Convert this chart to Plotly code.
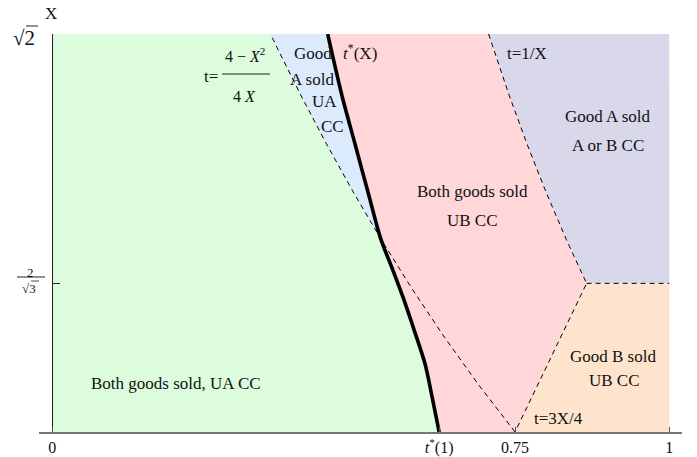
import plotly.graph_objects as go

# ---------------- data ----------------
# boundary t = (4 - X^2) / (4 X)
X_DASH = [1.0, 1.05, 1.10, 1.15, 1.2012, 1.25, 1.30, 1.35, 1.40, 1.41421]
T_DASH = [0.7500, 0.6899, 0.6341, 0.5821, 0.5322, 0.4875, 0.4442, 0.4032, 0.3643, 0.3536]
# thick curve t*(X)
X_STAR = [1.0, 1.035, 1.07, 1.105, 1.14, 1.17, 1.2012, 1.25, 1.30, 1.35, 1.41421]
T_STAR = [0.627, 0.616, 0.6045, 0.587, 0.5685, 0.551, 0.5322, 0.5115, 0.4905, 0.4695, 0.4463]
# boundary t = 1/X (upper part)
X_INV = [1.1547, 1.20, 1.25, 1.30, 1.35, 1.41421]
T_INV = [0.8660, 0.8333, 0.8000, 0.7692, 0.7407, 0.7071]
# boundary t = 3X/4 (lower part)
X_34 = [1.0, 1.1547]
T_34 = [0.75, 0.8660]
X_CROSS = 1.2012          # where t*(X) meets (4-X^2)/(4X)
X_KINK = 1.1547           # 2/sqrt(3)
X_MIN, X_MAX = 1.0, 1.41421
T_MIN, T_MAX = 0.0, 1.0
T_TICKS = [0.0, 0.627, 0.75, 1.0]
T_TICK_TEXT = ["0", "<i>t</i><sup>*</sup>(1)", "0.75", "1"]

C_GREEN = "rgb(221,252,221)"
C_BLUE = "rgb(219,234,253)"
C_PINK = "rgb(255,215,217)"
C_LAV = "rgb(216,216,234)"
C_PEACH = "rgb(254,228,204)"
FONT = "Liberation Serif"

# ---------------- polygons ----------------
dash_up = sorted([(t, x) for t, x in zip(T_DASH, X_DASH) if x >= X_CROSS], key=lambda p: -p[1])
star_up = sorted([(t, x) for t, x in zip(T_STAR, X_STAR) if x >= X_CROSS], key=lambda p: p[1])
star_lo = sorted([(t, x) for t, x in zip(T_STAR, X_STAR) if x <= X_CROSS], key=lambda p: -p[1])
star_all = sorted(zip(T_STAR, X_STAR), key=lambda p: p[1])
inv_desc = sorted(zip(T_INV, X_INV), key=lambda p: -p[1])
inv_asc = sorted(zip(T_INV, X_INV), key=lambda p: p[1])
l34_desc = sorted(zip(T_34, X_34), key=lambda p: -p[1])

green = [(T_MIN, X_MIN), (T_MIN, X_MAX)] + dash_up + star_lo
blue = dash_up + star_up
pink = star_all + inv_desc + l34_desc
lav = inv_asc + [(T_MAX, X_MAX), (T_MAX, X_KINK)]
peach = [(T_34[0], X_34[0]), (T_34[1], X_34[1]), (T_MAX, X_KINK), (T_MAX, X_MIN)]

fig = go.Figure()
for poly, col in [(green, C_GREEN), (blue, C_BLUE), (pink, C_PINK), (lav, C_LAV), (peach, C_PEACH)]:
    fig.add_trace(go.Scatter(x=[p[0] for p in poly], y=[p[1] for p in poly], fill="toself",
                             fillcolor=col, mode="lines", line=dict(width=0, color=col),
                             hoverinfo="skip", showlegend=False))

dash_style = dict(color="black", width=1, dash="5px,4px")
fig.add_trace(go.Scatter(x=T_DASH, y=X_DASH, mode="lines", line=dash_style, hoverinfo="skip", showlegend=False))
right = inv_desc + l34_desc
fig.add_trace(go.Scatter(x=[p[0] for p in right], y=[p[1] for p in right], mode="lines",
                         line=dash_style, hoverinfo="skip", showlegend=False))
fig.add_trace(go.Scatter(x=[T_34[1], T_MAX], y=[X_KINK, X_KINK], mode="lines",
                         line=dash_style, hoverinfo="skip", showlegend=False))
fig.add_trace(go.Scatter(x=T_STAR, y=X_STAR, mode="lines",
                         line=dict(color="black", width=3.6, shape="spline", smoothing=0.8),
                         hoverinfo="skip", showlegend=False))

# ---------------- layout helpers (pixel -> paper) ----------------
L, Rr, Tt, Bb = 39, 15, 34, 25
W, H = 697, 457
PW, PH = W - L - Rr, H - Tt - Bb


def px(x):
    return (x - L) / PW


def py(y):
    return (H - Bb - y) / PH


ann = []


def text(x, y, s, size=17, **kw):
    ann.append(dict(x=px(x), y=py(y), xref="paper", yref="paper", text=s, showarrow=False,
                    xanchor="center", yanchor="middle", font=dict(family=FONT, size=size, color="#111"), **kw))


shapes = []


def hline(x0, x1, y, w=1):
    shapes.append(dict(type="line", xref="paper", yref="paper", x0=px(x0), x1=px(x1), y0=py(y), y1=py(y),
                       line=dict(color="#222", width=w)))


text(176, 383, "Both goods sold, UA CC")
text(313, 53, "Good")
text(312, 79, "A sold")
text(324, 102, "UA")
text(332, 126, "CC")
text(360, 52, "<i>t</i><sup>*</sup>(X)")
text(527, 53, "t=1/X")
text(608, 116, "Good A sold")
text(608, 145, "A or B CC")
text(472, 191, "Both goods sold")
text(472, 220, "UB CC")
text(613, 356, "Good B sold")
text(614, 380, "UB CC")
text(558, 418, "t=3X/4")
# t = (4 - X^2)/(4X)
text(211, 76, "t=")
text(245, 55, "4 \u2212 <i>X</i><sup>2</sup>", size=16)
hline(222, 270, 74)
text(244, 96, "4 <i>X</i>", size=16)
# axis labels
text(51, 13, "X")
text(24, 38, "\u221a2", size=21)
hline(26, 38, 26)
text(30, 272, "2", size=13)
hline(17, 45, 277)
text(29, 288, "\u221a3", size=13)
hline(31, 39, 281, w=0.8)

fig.update_layout(
    width=W, height=H, margin=dict(l=L, r=Rr, t=Tt, b=Bb, autoexpand=False),
    paper_bgcolor="white", plot_bgcolor="white",
    annotations=ann, shapes=shapes,
    xaxis=dict(range=[-0.0216, 1.0206], showgrid=False, zeroline=False, showline=True,
               linecolor="#777", linewidth=1.5, ticks="inside", ticklen=5, tickcolor="#555",
               tickvals=T_TICKS, ticktext=T_TICK_TEXT,
               tickfont=dict(family=FONT, size=16, color="#111")),
    yaxis=dict(range=[X_MIN, X_MAX], showgrid=False, zeroline=False, showline=True,
               linecolor="#222", linewidth=1, ticks="inside", ticklen=7, tickcolor="#222",
               tickvals=[X_KINK, X_MAX], showticklabels=False,
               anchor="free", position=px(52.3)),
)
fig.write_html("out.html", config={"displayModeBar": False},
               post_script="document.body.style.margin='0';")
